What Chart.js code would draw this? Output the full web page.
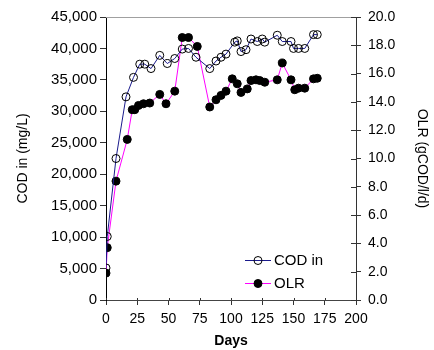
<!DOCTYPE html>
<html>
<head>
<meta charset="utf-8">
<script src="https://cdn.jsdelivr.net/npm/chart.js@4.4.1/dist/chart.umd.min.js"></script>
<style>
  html, body { margin: 0; padding: 0; background: #fff; }
  #chart { display: block; }
</style>
</head>
<body>
<canvas id="chart" width="434" height="350"></canvas>
<script>
(function() {
  'use strict';

  // COD in (mg/L), left axis
  var codDays = [0, 1, 8, 16, 22, 27, 31, 36, 43, 49, 55, 61, 66, 72, 83, 88, 92, 96, 103, 105, 108, 112, 116, 121, 125, 127, 137, 141, 148, 150, 154, 159, 166, 169];
  var codValues = [5100, 10100, 22500, 32300, 35400, 37500, 37500, 36800, 38900, 37600, 38400, 39900, 40000, 38600, 36800, 38000, 38600, 39100, 41000, 41200, 39500, 39800, 41500, 41100, 41500, 41000, 42100, 41100, 41100, 40000, 40000, 40000, 42200, 42200];

  // OLR (gCOD/l/d), right axis
  var olrDays = [0, 1, 8, 17, 21, 23, 26, 30, 35, 43, 48, 55, 61, 66, 73, 83, 88, 92, 96, 101, 105, 108, 113, 116, 120, 123, 127, 137, 141, 148, 151, 154, 159, 166, 169];
  var olrValues = [1.9, 3.7, 8.4, 11.35, 13.45, 13.45, 13.75, 13.87, 13.92, 14.53, 13.87, 14.76, 18.55, 18.55, 17.92, 13.64, 14.15, 14.46, 14.76, 15.63, 15.28, 14.67, 14.92, 15.51, 15.56, 15.51, 15.39, 15.56, 16.75, 15.56, 14.86, 14.97, 14.97, 15.63, 15.67];

  var font = 'Liberation Sans, Arial, Helvetica, sans-serif';

  function toPoints(xs, ys) {
    return xs.map(function(x, i) { return { x: x, y: ys[i] }; });
  }

  // extra axis bits: grey top frame, cross ticks, inline legend
  var extras = {
    id: 'extras',
    afterDraw: function(chart) {
      var ctx = chart.ctx;
      var area = chart.chartArea;
      var y1 = chart.scales.y1;
      var x = chart.scales.x;
      ctx.save();
      ctx.lineWidth = 1;
      ctx.strokeStyle = '#a0a0a0';
      ctx.beginPath();
      ctx.moveTo(area.left, area.top + 0.5);
      ctx.lineTo(area.right, area.top + 0.5);
      ctx.stroke();

      ctx.strokeStyle = '#333';
      ctx.beginPath();
      y1.ticks.forEach(function(t) {
        var py = Math.round(y1.getPixelForValue(t.value)) + 0.5;
        ctx.moveTo(area.right - 5, py);
        ctx.lineTo(area.right, py);
      });
      x.ticks.forEach(function(t) {
        var px = Math.round(x.getPixelForValue(t.value)) + 0.5;
        ctx.moveTo(px, area.bottom - 2);
        ctx.lineTo(px, area.bottom);
      });
      ctx.stroke();

      // legend
      var items = chart.data.datasets;
      var lx = area.left + 139;
      var ly = area.top + 243;
      ctx.font = '15px ' + font;
      ctx.textBaseline = 'middle';
      ctx.textAlign = 'left';
      items.forEach(function(ds, i) {
        var yy = ly + i * 23;
        ctx.strokeStyle = ds.borderColor;
        ctx.beginPath();
        ctx.moveTo(lx, yy + 0.5);
        ctx.lineTo(lx + 26, yy + 0.5);
        ctx.stroke();
        ctx.beginPath();
        ctx.arc(lx + 13, yy + 0.5, 4, 0, Math.PI * 2);
        if (ds.pointBackgroundColor !== 'transparent') {
          ctx.fillStyle = ds.pointBackgroundColor;
          ctx.fill();
        }
        ctx.strokeStyle = '#000';
        ctx.stroke();
        ctx.fillStyle = '#000';
        ctx.fillText(ds.label, lx + 29, yy + 1);
      });
      ctx.restore();
    }
  };

  new Chart(document.getElementById('chart'), {
    type: 'line',
    data: {
      datasets: [
        {
          label: 'COD in',
          data: toPoints(codDays, codValues),
          yAxisID: 'y',
          borderColor: '#1a1a8c',
          borderWidth: 1,
          pointRadius: 4,
          pointBorderWidth: 1,
          pointBorderColor: '#000',
          pointBackgroundColor: 'transparent',
          tension: 0
        },
        {
          label: 'OLR',
          data: toPoints(olrDays, olrValues),
          yAxisID: 'y1',
          borderColor: '#ff00ff',
          borderWidth: 1,
          pointRadius: 4,
          pointBorderWidth: 1,
          pointBorderColor: '#000',
          pointBackgroundColor: '#000',
          tension: 0
        }
      ]
    },
    options: {
      responsive: false,
      animation: false,
      devicePixelRatio: 1,
      layout: { padding: { top: 17, left: 0, right: 0, bottom: 0 } },
      plugins: { legend: { display: false }, tooltip: { enabled: false } },
      scales: {
        x: {
          type: 'linear',
          min: 0,
          max: 200,
          afterFit: function(s) { s.height = 50; },
          ticks: { stepSize: 25, padding: 6, color: '#000', font: { family: font, size: 14 } },
          grid: { display: true, drawOnChartArea: false, drawTicks: true, tickLength: 5, color: '#333' },
          border: { display: true, color: '#444', width: 1 },
          title: { display: true, text: 'Days', color: '#000', padding: { top: 0, bottom: 0 }, font: { family: font, size: 14, weight: 'bold' } }
        },
        y: {
          position: 'left',
          min: 0,
          max: 45000,
          afterFit: function(s) { s.width = 106; },
          ticks: {
            stepSize: 5000,
            padding: 3,
            color: '#000',
            font: { family: font, size: 15 },
            callback: function(v) { return Number(v).toLocaleString('en-US'); }
          },
          grid: { display: true, drawOnChartArea: false, drawTicks: true, tickLength: 6, color: '#333' },
          border: { display: true, color: '#000', width: 1 },
          title: { display: true, text: 'COD in (mg/L)', color: '#000', padding: { top: 15, bottom: 0 }, font: { family: font, size: 14 } }
        },
        y1: {
          position: 'right',
          min: 0,
          max: 20,
          afterFit: function(s) { s.width = 78; },
          ticks: {
            stepSize: 2,
            padding: 7,
            color: '#000',
            font: { family: font, size: 14 },
            callback: function(v) { return Number(v).toFixed(1); }
          },
          grid: { display: true, drawOnChartArea: false, drawTicks: true, tickLength: 5, color: '#333' },
          border: { display: true, color: '#333', width: 1 },
          title: { display: true, text: 'OLR (gCOD/l/d)', color: '#000', padding: { top: 4, bottom: 0 }, font: { family: font, size: 14 } }
        }
      }
    },
    plugins: [extras]
  });
})();
</script>
</body>
</html>
